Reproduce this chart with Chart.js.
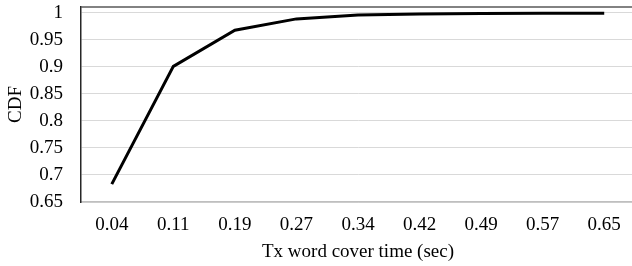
<!DOCTYPE html>
<html>
<head>
<meta charset="utf-8">
<script src="https://cdn.jsdelivr.net/npm/chart.js@4"></script>
<style>
    html, body { margin: 0; padding: 0; background: #fff; overflow: hidden; width: 632px; height: 266px; }
    canvas { display: block; }
</style>
</head>
<body>
<canvas id="cdf-chart" width="635" height="266"></canvas>
<script>
const coverTimes = ['0.04', '0.11', '0.19', '0.27', '0.34', '0.42', '0.49', '0.57', '0.65'];
const cdfValues = [0.683, 0.901, 0.968, 0.989, 0.996, 0.998, 0.999, 0.9995, 0.9995];
const yTicks = [0.65, 0.7, 0.75, 0.8, 0.85, 0.9, 0.95, 1];

const font = { family: '"Liberation Serif", "Times New Roman", serif', size: 19, lineHeight: 1 };

// top edge of the plot frame
const topFrame = {
    id: 'topFrame',
    afterDraw(chart) {
        const { ctx, chartArea } = chart;
        ctx.save();
        ctx.strokeStyle = '#595959';
        ctx.lineWidth = 1.5;
        ctx.beginPath();
        ctx.moveTo(chartArea.left, chartArea.top);
        ctx.lineTo(chartArea.right, chartArea.top);
        ctx.stroke();
        ctx.restore();
    },
};

new Chart(document.getElementById('cdf-chart'), {
    type: 'line',
    data: {
        labels: coverTimes,
        datasets: [{
            data: cdfValues,
            borderColor: '#000',
            borderWidth: 3,
            pointRadius: 0,
            tension: 0,
        }],
    },
    options: {
        responsive: false,
        animation: false,
        layout: { padding: { top: 7, right: 0, left: 7, bottom: 4 } },
        plugins: {
            legend: { display: false },
            tooltip: { enabled: false },
        },
        scales: {
            x: {
                offset: true,
                afterFit: (scale) => { scale.height = 60; scale.paddingLeft = 0; scale.paddingRight = 0; },
                grid: { display: false, drawTicks: false },
                border: { color: '#bfbfbf', width: 1.5 },
                ticks: { color: '#000', font, padding: 14, maxRotation: 0, autoSkip: false },
                title: { display: true, text: 'Tx word cover time (sec)', color: '#000', font, padding: { top: 9, bottom: 0 } },
            },
            y: {
                min: 0.65,
                max: 1.011,
                afterBuildTicks: (axis) => { axis.ticks = yTicks.map((value) => ({ value })); },
                afterFit: (scale) => { scale.width = 74; scale.paddingTop = 0; scale.paddingBottom = 0; },
                grid: { color: '#d9d9d9', drawTicks: false },
                border: { color: '#262626', width: 1.5 },
                ticks: { color: '#000', font, padding: 18, autoSkip: false, callback: (v) => String(+v.toFixed(2)) },
                title: { display: true, text: 'CDF', color: '#000', font, padding: { top: 0, bottom: 4 } },
            },
        },
    },
    plugins: [topFrame],
});
</script>
</body>
</html>
